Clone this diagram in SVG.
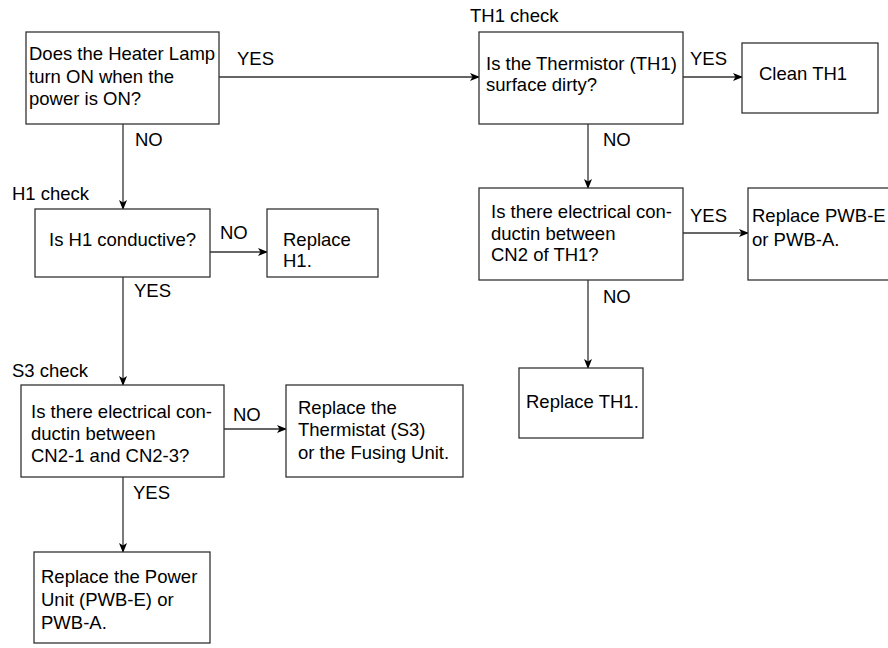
<svg xmlns="http://www.w3.org/2000/svg" width="888" height="648" viewBox="0 0 888 648">
<defs>
<marker id="ah" markerWidth="10" markerHeight="8" refX="9" refY="4" orient="auto" markerUnits="userSpaceOnUse">
<path d="M0,0 L10,4 L0,8 L2.5,4 Z" fill="#000"/>
</marker>
<style>
.b{fill:#fff;stroke:#333;stroke-width:1.3}
text{font-family:"Liberation Sans",Arial,sans-serif;font-size:18.5px;fill:#000}
.c{stroke:#333;stroke-width:1.3;fill:none}
.a{marker-end:url(#ah)}
</style>
</defs>
<rect width="888" height="648" fill="#fff"/>
<g id="connectors">
<line class="c a" x1="219" y1="77" x2="479" y2="77"/>
<line class="c a" x1="683" y1="77" x2="742" y2="77"/>
<line class="c a" x1="588" y1="124" x2="588" y2="188"/>
<line class="c a" x1="683" y1="233" x2="748" y2="233"/>
<line class="c a" x1="588" y1="280" x2="588" y2="368"/>
<line class="c a" x1="123" y1="124" x2="123" y2="209"/>
<line class="c a" x1="210" y1="252" x2="267" y2="252"/>
<line class="c a" x1="123" y1="277" x2="123" y2="385"/>
<line class="c a" x1="224" y1="429" x2="286" y2="429"/>
<line class="c a" x1="123" y1="477" x2="123" y2="552"/>
<text x="237" y="65">YES</text>
<text x="690" y="65">YES</text>
<text x="603" y="146">NO</text>
<text x="690" y="222">YES</text>
<text x="603" y="303">NO</text>
<text x="135" y="146">NO</text>
<text x="220" y="239">NO</text>
<text x="134" y="297">YES</text>
<text x="233" y="421">NO</text>
<text x="133" y="499">YES</text>
</g>
<g id="n1">
<rect class="b" x="26" y="32" width="193" height="92"/>
<text x="29" y="60">Does the Heater Lamp</text>
<text x="29" y="83">turn ON when the</text>
<text x="29" y="105">power is ON?</text>
</g>
<g id="n2">
<text x="470" y="22">TH1 check</text>
<rect class="b" x="479" y="32" width="204" height="92"/>
<text x="486" y="70">Is the Thermistor (TH1)</text>
<text x="486" y="91">surface dirty?</text>
</g>
<g id="n3">
<rect class="b" x="742" y="43" width="136" height="70"/>
<text x="759" y="80">Clean TH1</text>
</g>
<g id="n4">
<rect class="b" x="479" y="188" width="204" height="92"/>
<text x="491" y="218">Is there electrical con-</text>
<text x="491" y="240">ductin between</text>
<text x="491" y="261">CN2 of TH1?</text>
</g>
<g id="n5">
<rect class="b" x="748" y="188" width="150" height="92"/>
<text x="752" y="222">Replace PWB-E</text>
<text x="752" y="246">or PWB-A.</text>
</g>
<g id="n6">
<rect class="b" x="519" y="368" width="124" height="70"/>
<text x="526" y="408">Replace TH1.</text>
</g>
<g id="n7">
<text x="12" y="200">H1 check</text>
<rect class="b" x="35" y="209" width="175" height="68"/>
<text x="49" y="246">Is H1 conductive?</text>
</g>
<g id="n8">
<rect class="b" x="267" y="209" width="111" height="68"/>
<text x="283" y="246">Replace</text>
<text x="283" y="267">H1.</text>
</g>
<g id="n9">
<text x="12" y="377">S3 check</text>
<rect class="b" x="21" y="385" width="203" height="92"/>
<text x="31" y="418">Is there electrical con-</text>
<text x="31" y="440">ductin between</text>
<text x="31" y="462">CN2-1 and CN2-3?</text>
</g>
<g id="n10">
<rect class="b" x="286" y="385" width="177" height="92"/>
<text x="298" y="414">Replace the</text>
<text x="298" y="436">Thermistat (S3)</text>
<text x="298" y="459">or the Fusing Unit.</text>
</g>
<g id="n11">
<rect class="b" x="34" y="552" width="176" height="91"/>
<text x="41" y="583">Replace the Power</text>
<text x="41" y="606">Unit (PWB-E) or</text>
<text x="41" y="629">PWB-A.</text>
</g>
</svg>
